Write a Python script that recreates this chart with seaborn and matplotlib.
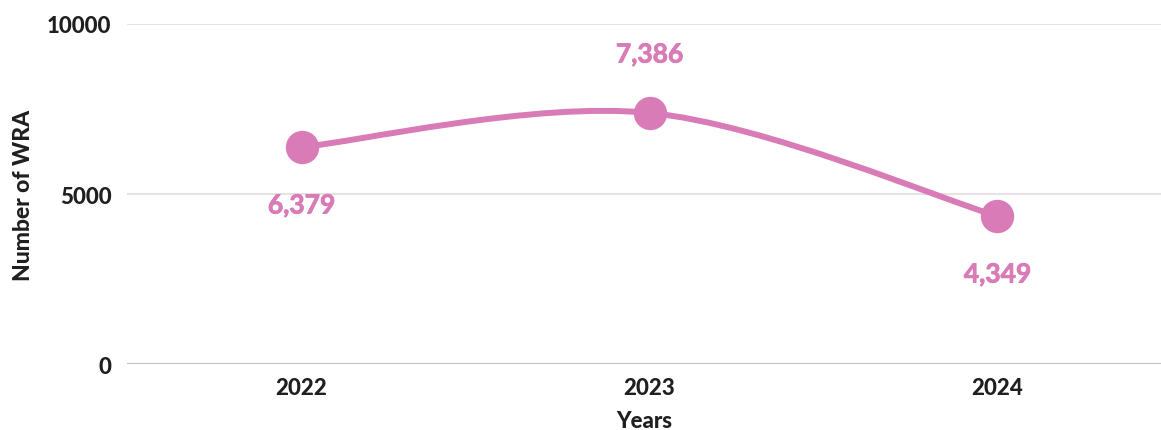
import numpy as np
import pandas as pd
import seaborn as sns
import matplotlib.pyplot as plt
import matplotlib.patheffects as pe
from matplotlib.path import Path
from matplotlib.patches import PathPatch

# data
years = ["2022", "2023", "2024"]
wra = [6379, 7386, 4349]
value_labels = ["6,379", "7,386", "4,349"]
label_side = ["below", "above", "below"]

pink = "#D87BB6"
dark = "#1f1f1f"

sns.set_theme(style="white")
plt.rcParams["font.family"] = ["Lato", "DejaVu Sans"]

df = pd.DataFrame({"Years": years, "WRA": wra})

fig = plt.figure(figsize=(11.61, 4.31), dpi=100)
ax = fig.add_axes([0.109, 0.153, 0.891, 0.789])

# markers through seaborn's categorical axis
sns.pointplot(data=df, x="Years", y="WRA", color=pink, linestyles="none",
              markers="o", markersize=22, ax=ax, zorder=4)

# smooth (Catmull-Rom) line through the points, drawn as a bezier path
xs = np.arange(len(wra), dtype=float)
ys = np.array(wra, dtype=float)
px = np.concatenate([[xs[0]], xs, [xs[-1]]])
py = np.concatenate([[ys[0]], ys, [ys[-1]]])
verts = [(xs[0], ys[0])]
codes = [Path.MOVETO]
for i in range(1, len(px) - 2):
    c1 = (px[i] + (px[i + 1] - px[i - 1]) / 6, py[i] + (py[i + 1] - py[i - 1]) / 6)
    c2 = (px[i + 1] - (px[i + 2] - px[i]) / 6, py[i + 1] - (py[i + 2] - py[i]) / 6)
    verts += [c1, c2, (px[i + 1], py[i + 1])]
    codes += [Path.CURVE4] * 3
ax.add_patch(PathPatch(Path(verts, codes), facecolor="none", edgecolor=pink,
                       lw=4.3, capstyle="round", zorder=3))

# value labels
for i, (v, lab, side) in enumerate(zip(wra, value_labels, label_side)):
    off = 42 if side == "above" else -42
    ax.annotate(lab, (i, v), xytext=(0, off), textcoords="offset points",
                ha="center", va="center", fontsize=19, fontweight="bold",
                color=pink,
                path_effects=[pe.withStroke(linewidth=0.6, foreground=pink)])

ax.set_xlim(-0.503, 2.47)
ax.set_ylim(0, 10000)
ax.set_yticks([0, 5000, 10000])
ax.set_yticklabels(["0", "5000", "10000"])

for y in [5000, 10000]:
    ax.axhline(y, color="#e3dcdc", lw=1.2, zorder=1)
ax.axhline(0, color="#c9bdbd", lw=1.6, zorder=1)

sns.despine(ax=ax, left=True, bottom=True)
ax.tick_params(axis="both", length=0, labelsize=16, colors=dark)
ax.tick_params(axis="y", pad=11)
ax.tick_params(axis="x", pad=9)
for t in ax.get_xticklabels() + ax.get_yticklabels():
    t.set_fontweight(900)

ax.set_xlabel("Years", fontsize=16, fontweight=900, color=dark, labelpad=9)
ax.set_ylabel("Number of WRA", fontsize=16.5, fontweight=900, color=dark, labelpad=9)

fig.savefig("out.png", dpi=100)
